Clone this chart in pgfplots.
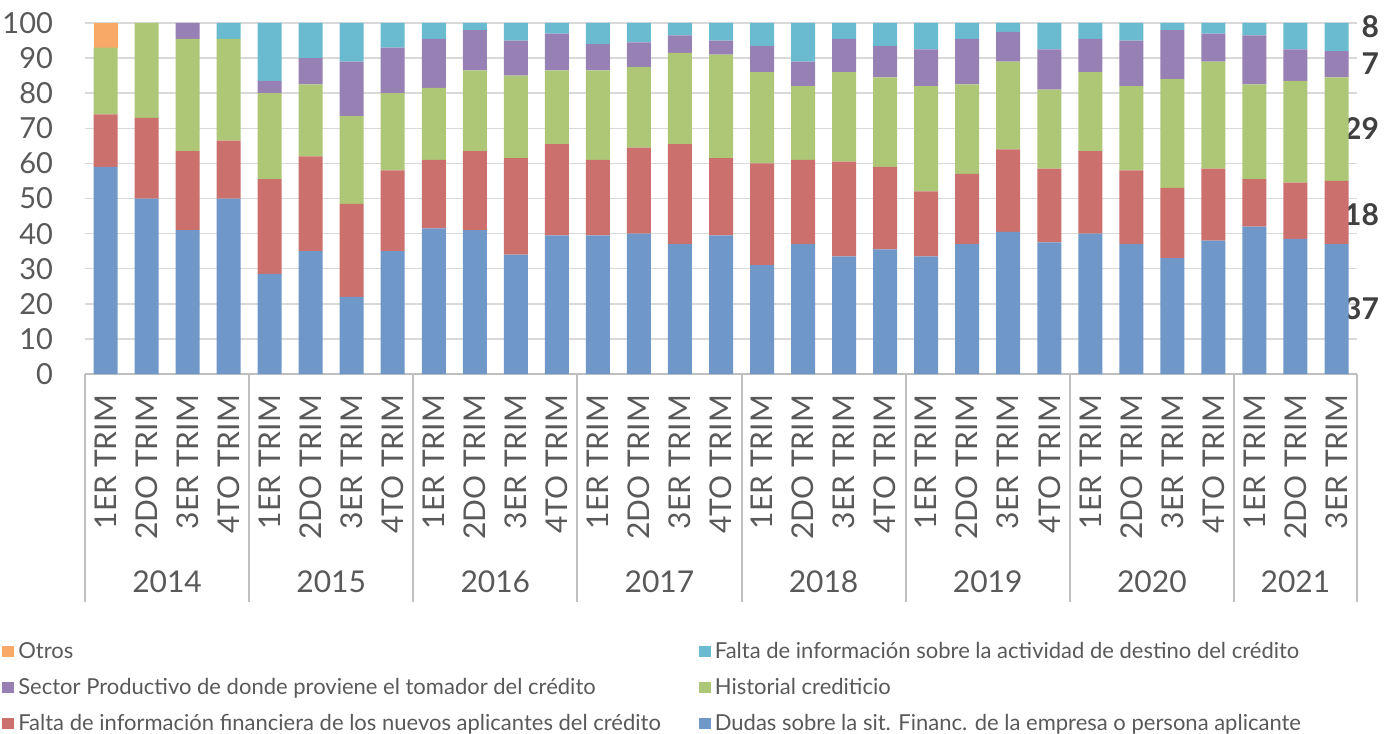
\documentclass[border=0pt]{standalone}
\usepackage{fontspec}
\setmainfont{Lato}
\usepackage{pgfplots}
\pgfplotsset{compat=1.18}
\usepackage{pgfplotstable}

\definecolor{cBlue}{HTML}{4F81BD}
\definecolor{cRed}{HTML}{C0504D}
\definecolor{cGreen}{HTML}{9BBB59}
\definecolor{cPurple}{HTML}{8064A2}
\definecolor{cCyan}{HTML}{4BACC6}
\definecolor{cOrange}{HTML}{F79646}
\definecolor{tickgray}{HTML}{595959}
\definecolor{labgray}{HTML}{404040}
\definecolor{gridgray}{HTML}{D9D9D9}
\definecolor{sepgray}{HTML}{BFBFBF}

\pgfplotstableread{
i    blue  red   green purple cyan otros
0    59    15    19    0      0    7
1    50    23    27    0      0    0
2    41    22.5  32    4.5    0    0
3    50    16.5  29    0      4.5  0
4    28.5  27    24.5  3.5    16.5 0
5    35    27    20.5  7.5    10   0
6    22    26.5  25    15.5   11   0
7    35    23    22    13     7    0
8    41.5  19.5  20.5  14     4.5  0
9    41    22.5  23    11.5   2    0
10   34    27.5  23.5  10     5    0
11   39.5  26    21    10.5   3    0
12   39.5  21.5  25.5  7.5    6    0
13   40    24.5  23    7      5.5  0
14   37    28.5  26    5      3.5  0
15   39.5  22    29.5  4      5    0
16   31    29    26    7.5    6.5  0
17   37    24    21    7      11   0
18   33.5  27    25.5  9.5    4.5  0
19   35.5  23.5  25.5  9      6.5  0
20   33.5  18.5  30    10.5   7.5  0
21   37    20    25.5  13     4.5  0
22   40.5  23.5  25    8.5    2.5  0
23   37.5  21    22.5  11.5   7.5  0
24   40    23.5  22.5  9.5    4.5  0
25   37    21    24    13     5    0
26   33    20    31    14     2    0
27   38    20.5  30.5  8      3    0
28   42    13.5  27    14     3.5  0
29   38.5  16    29    9      7.5  0
30   37    18    29.5  7.5    8    0
}\data

\tikzset{
  stripes/.style={fill=#1!82!white, draw=none},
}

\begin{document}
\begin{tikzpicture}
\begin{axis}[
  scale only axis, width=636pt, height=175.5pt,
  ybar stacked, bar width=12pt,
  xmin=-0.5, xmax=30.5, ymin=0, ymax=100,
  clip=false,
  xtick={0,...,30},
  xticklabels={1ER TRIM,2DO TRIM,3ER TRIM,4TO TRIM,1ER TRIM,2DO TRIM,3ER TRIM,4TO TRIM,1ER TRIM,2DO TRIM,3ER TRIM,4TO TRIM,1ER TRIM,2DO TRIM,3ER TRIM,4TO TRIM,1ER TRIM,2DO TRIM,3ER TRIM,4TO TRIM,1ER TRIM,2DO TRIM,3ER TRIM,4TO TRIM,1ER TRIM,2DO TRIM,3ER TRIM,4TO TRIM,1ER TRIM,2DO TRIM,3ER TRIM},
  xticklabel style={rotate=90, anchor=east, font=\fontsize{15}{15}\selectfont, text=tickgray},
  xticklabel shift=7pt,
  ytick={0,10,...,100},
  yticklabel style={font=\fontsize{14.5}{14.5}\selectfont, text=tickgray, xshift=-12.5pt},
  /pgf/number format/assume math mode=true,
  ymajorgrids, grid style={gridgray, line width=0.75pt},
  axis lines*=left,
  y axis line style={draw=none},
  x axis line style={draw=sepgray, line width=1pt},
  major tick length=0pt,
  tick style={draw=none},
  legend columns=2,
  reverse legend,
  legend cell align=left,
  legend image code/.code={\path[#1] (0pt,-2.75pt) rectangle (6pt,2.75pt);},
  legend style={at={(-0.0653,-0.752)}, anchor=north west, draw=none, fill=none,
    font=\fontsize{11}{12}\selectfont, text=tickgray, inner sep=0pt,
    row sep=4.3pt,
    /tikz/every even column/.append style={column sep=17pt}},
]
\addplot[stripes=cBlue] table[x=i, y=blue] {\data};
\addlegendentry{Dudas sobre la sit. Financ. de la empresa o persona aplicante}
\addplot[stripes=cRed] table[x=i, y=red] {\data};
\addlegendentry{Falta de información financiera de los nuevos aplicantes del crédito}
\addplot[stripes=cGreen] table[x=i, y=green] {\data};
\addlegendentry{Historial crediticio}
\addplot[stripes=cPurple] table[x=i, y=purple] {\data};
\addlegendentry{Sector Productivo de donde proviene el tomador del crédito}
\addplot[stripes=cCyan] table[x=i, y=cyan] {\data};
\addlegendentry{Falta de información sobre la actividad de destino del crédito}
\addplot[stripes=cOrange] table[x=i, y=otros] {\data};
\addlegendentry{Otros}

\pgfplotsinvokeforeach{-0.5,3.5,7.5,11.5,15.5,19.5,23.5,27.5,30.5}{
  \draw[sepgray, line width=1pt] (axis cs:#1,0) -- ([yshift=-114pt]axis cs:#1,0);
}
\tikzset{yr/.style={font=\fontsize{15}{15}\selectfont, text=tickgray, yshift=-104pt}}
\node[yr] at (axis cs:1.5,0) {2014};
\node[yr] at (axis cs:5.5,0) {2015};
\node[yr] at (axis cs:9.5,0) {2016};
\node[yr] at (axis cs:13.5,0) {2017};
\node[yr] at (axis cs:17.5,0) {2018};
\node[yr] at (axis cs:21.5,0) {2019};
\node[yr] at (axis cs:25.5,0) {2020};
\node[yr] at (axis cs:29,0) {2021};

\tikzset{rl/.style={anchor=east, font=\bfseries\fontsize{15}{15}\selectfont, text=labgray, xshift=14.5pt}}
\node[rl] at (axis cs:30.5,18.5) {37};
\node[rl] at (axis cs:30.5,45.5) {18};
\node[rl] at (axis cs:30.5,70) {29};
\node[rl] at (axis cs:30.5,88.3) {7};
\node[rl] at (axis cs:30.5,99) {8};

\coordinate (SW) at (rel axis cs:0,0);
\coordinate (NE) at (rel axis cs:1,1);
\end{axis}
\pgfresetboundingbox
\path[use as bounding box] ([xshift=-42.5pt,yshift=-179.5pt]SW) rectangle ([xshift=15.5pt,yshift=11.5pt]NE);
\end{tikzpicture}
\end{document}
